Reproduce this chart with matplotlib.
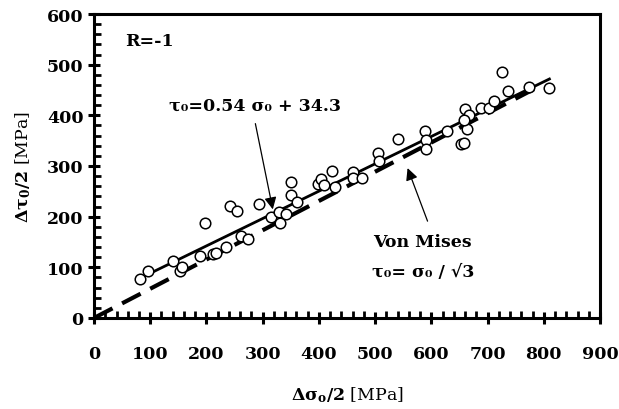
import numpy as np
import matplotlib.pyplot as plt
from matplotlib.ticker import MultipleLocator

sigma_a = [82, 96, 141, 153, 157, 189, 197, 212, 217, 234, 241, 254, 262, 273,
           293, 314, 331, 329, 342, 350, 350, 361, 398, 404, 409, 423, 429,
           460, 461, 476, 506, 507, 540, 589, 591, 590, 627, 652, 658, 664,
           660, 667, 658, 688, 703, 711, 725, 737, 773, 810]
tau_a = [77, 93, 113, 93, 101, 123, 187, 126, 129, 140, 221, 212, 162, 156,
         224, 199, 187, 209, 206, 269, 243, 229, 265, 275, 262, 290, 258,
         288, 277, 276, 326, 310, 354, 370, 351, 334, 370, 344, 345, 373,
         412, 401, 390, 414, 414, 429, 486, 449, 456, 454]

fit_slope, fit_icpt = 0.54, 34.3
fit_range = [85, 810]
vm_range = [0, 795]

plt.rcParams['font.family'] = ['DejaVu Serif']
plt.rcParams['mathtext.fontset'] = 'dejavuserif'

fig = plt.figure(figsize=(6.19, 4.10), dpi=100)
ax = fig.add_axes([0.1519, 0.222, 0.8174, 0.7414])

xs = np.array(fit_range)
ax.plot(xs, fit_slope*xs + fit_icpt, color='black', lw=2.0, zorder=3)
xv = np.array(vm_range)
ax.plot(xv, xv/np.sqrt(3), color='black', lw=3.0, dashes=(5, 2.6), zorder=3)
ax.plot(sigma_a, tau_a, 'o', ms=7.6, mfc='white', mec='black', mew=1.1, zorder=4)

ax.set_xlim(0, 900)
ax.set_ylim(0, 600)
ax.xaxis.set_major_locator(MultipleLocator(100))
ax.yaxis.set_major_locator(MultipleLocator(100))
ax.xaxis.set_minor_locator(MultipleLocator(20))
ax.yaxis.set_minor_locator(MultipleLocator(20))
ax.tick_params(which='major', direction='inout', length=9, width=2.2)
ax.tick_params(which='minor', direction='in', length=5, width=2.0)
ax.tick_params(axis='x', which='major', pad=15)
ax.tick_params(axis='y', which='major', pad=3)
for lab in ax.get_xticklabels() + ax.get_yticklabels():
    lab.set_fontweight('bold')
    lab.set_fontsize(12.5)
for s in ax.spines.values():
    s.set_linewidth(2.2)

ax.set_xlabel(r'$\mathbf{\Delta\sigma_o/2}$ [MPa]', fontsize=12.5, labelpad=16)
ax.set_ylabel(r'$\mathbf{\Delta\tau_0/2}$ [MPa]', fontsize=12.5, labelpad=10)

ax.text(55, 547, 'R=-1', fontsize=12.5, fontweight='bold', va='center')
ax.text(133, 420, 'τ₀=0.54 σ₀ + 34.3', fontsize=12.5, fontweight='bold', va='center')
ax.annotate('', xy=(319, 209), xytext=(286, 389),
            arrowprops=dict(arrowstyle='-|>', color='black', lw=0.9,
                            mutation_scale=18))
ax.text(585, 150, 'Von Mises', fontsize=12.5, fontweight='bold', ha='center', va='center')
ax.text(585, 91, 'τ₀= σ₀ / √3', fontsize=12.5, fontweight='bold', ha='center', va='center')
ax.annotate('', xy=(556, 301), xytext=(595, 186),
            arrowprops=dict(arrowstyle='-|>', color='black', lw=0.9,
                            mutation_scale=18))

fig.savefig('out.png', dpi=100)
